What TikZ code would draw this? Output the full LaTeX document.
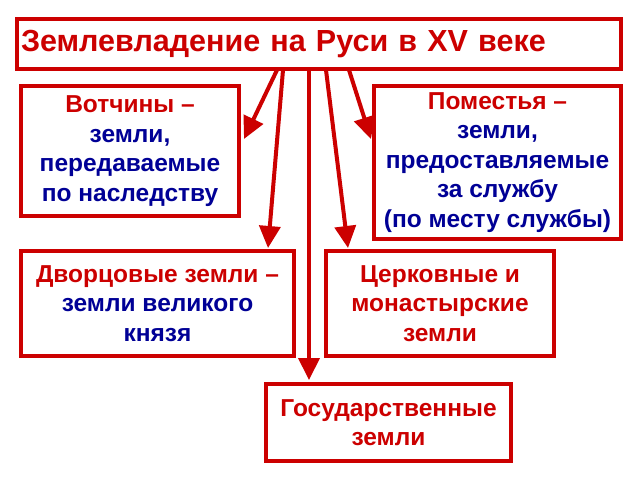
\documentclass[tikz,border=0pt]{standalone}
\usepackage{fontspec}
\setmainfont{Liberation Sans}
\usetikzlibrary{arrows.meta}

\definecolor{zred}{RGB}{204,0,0}
\definecolor{zblue}{RGB}{0,0,150}

\tikzstyle{box}=[draw=zred, line width=4pt, fill=white, inner sep=0pt, align=center, text=zred, font=\fontsize{24.5}{29.5}\selectfont\bfseries]
\tikzstyle{headbox}=[box, font=\fontsize{30.5}{34}\selectfont\bfseries, text width=596pt, align=left]
\tikzstyle{arr}=[draw=zred, line width=4pt, -{Triangle[length=22pt,width=21pt,fill=zred]}]

\begin{document}
\begin{tikzpicture}[x=1pt, y=-1pt]
			\useasboundingbox (0,0) rectangle (640,480);
			%The title box
			\node[headbox, minimum width=604pt, minimum height=50pt] (title) at (319,44) {Землевладение на Руси в XV веке};
			%The boxes with the kinds of land
			\node[box, minimum width=218pt, minimum height=130pt] (vot) at (130,151)
				{Вотчины~–\\\color{zblue}земли,\\\color{zblue}передаваемые\\\color{zblue}по наследству};
			\node[box, minimum width=247pt, minimum height=153pt] (pom) at (497.5,162.5)
				{Поместья~–\\\color{zblue}земли,\\\color{zblue}предоставляемые\\\color{zblue}за службу\\\color{zblue}(по месту службы)};
			\node[box, minimum width=273pt, minimum height=105pt] (dvor) at (157.5,303.5)
				{Дворцовые земли~–\\\color{zblue}земли великого\\\color{zblue}князя};
			\node[box, minimum width=228pt, minimum height=105pt] (cerk) at (440,303.5)
				{Церковные и\\монастырские\\земли};
			\node[box, minimum width=245pt, minimum height=77pt] (gos) at (388.5,422.5)
				{Государственные\\земли};
			%Start and end points of the arrows
			\coordinate (s1) at (277,70);
			\coordinate (s2) at (283,70);
			\coordinate (s3) at (309,70);
			\coordinate (s4) at (326,70);
			\coordinate (s5) at (349,70);
			\coordinate (t1) at (244,139);
			\coordinate (t2) at (268,248);
			\coordinate (t3) at (309,380);
			\coordinate (t4) at (348,248);
			\coordinate (t5) at (371,139);
			%The arrows
			\draw[arr] (s1) -- (t1);
			\draw[arr] (s2) -- (t2);
			\draw[arr] (s3) -- (t3);
			\draw[arr] (s4) -- (t4);
			\draw[arr] (s5) -- (t5);
		\end{tikzpicture}
\end{document}
